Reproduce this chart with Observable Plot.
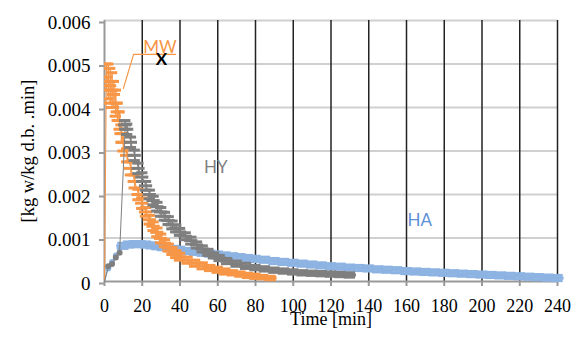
<!DOCTYPE html>
<html>
<head>
<meta charset="utf-8">
<script src="https://cdn.jsdelivr.net/npm/d3@7"></script>
<script src="https://cdn.jsdelivr.net/npm/@observablehq/plot@0.6"></script>
<style>
  html, body { margin: 0; padding: 0; background: #fff; }
  #chart svg { font-family: "Liberation Serif", "Times New Roman", serif; }
</style>
</head>
<body>
<div id="chart"></div>
<script>
// ---- Data ----
const xTicks = [0, 20, 40, 60, 80, 100, 120, 140, 160, 180, 200, 220, 240];
const yTicks = [0, 0.001, 0.002, 0.003, 0.004, 0.005, 0.006];
const yTickLabels = ["0", "0.001", "0.002", "0.003", "0.004", "0.005", "0.006"];

// MW (orange)
const mwTime = [0, 1, 2, 3, 4, 5, 6, 7, 8, 9, 10, 12, 14, 16, 18, 20, 22, 24, 26, 28, 30, 32, 34, 36, 38, 40, 44, 48, 52, 56, 60, 64, 68, 72, 76, 80, 84, 88];
const mwValue = [0, 0.0047, 0.0046, 0.0045, 0.0044, 0.0043, 0.0041, 0.0039, 0.0037, 0.0034, 0.0032, 0.0029, 0.0026, 0.0023, 0.0020, 0.0018, 0.0016, 0.00142, 0.00127, 0.00113, 0.00099, 0.00088, 0.00078, 0.00070, 0.00063, 0.00057, 0.00049, 0.00042, 0.00036, 0.00031, 0.00027, 0.00023, 0.00020, 0.00017, 0.00014, 0.00012, 0.00010, 0.00008];
const mwError = [0, 0.0003, 0.0004, 0.0004, 0.0004, 0.0003, 0.0003, 0.0002, 0.0002, 0.0002, 0.0002, 0.00015, 0.00015, 0.00015, 0.00012, 0.00012, 0.0001, 0.0001, 0.0001, 0.0001, 0.0001, 0.00008, 0.00008, 0.00008, 0.00008, 0.00008, 0.00007, 0.00007, 0.00007, 0.00006, 0.00006, 0.00006, 0.00005, 0.00005, 0.00005, 0.00005, 0.00004, 0.00004];

// HY (gray)
const hyTime = [0, 2, 4, 6, 8, 11, 12, 14, 16, 18, 20, 22, 24, 26, 28, 30, 32, 34, 36, 38, 40, 43, 46, 49, 52, 55, 58, 61, 65, 70, 75, 80, 85, 90, 95, 100, 105, 110, 115, 120, 125, 130];
const hyValue = [0, 0.00035, 0.0004, 0.00055, 0.00066, 0.0036, 0.0035, 0.0032, 0.0029, 0.0026, 0.0024, 0.0022, 0.0020, 0.00186, 0.00172, 0.0016, 0.0015, 0.0014, 0.0013, 0.00122, 0.00114, 0.00104, 0.00094, 0.00084, 0.00075, 0.00067, 0.0006, 0.00054, 0.00047, 0.00041, 0.00036, 0.00032, 0.00029, 0.00026, 0.00024, 0.00022, 0.0002, 0.00019, 0.00018, 0.00017, 0.00016, 0.00015];
const hyError = [0, 0, 0, 0, 0, 0.0001, 0.00012, 0.00012, 0.00012, 0.00012, 0.0001, 0.0001, 0.0001, 0.0001, 0.0001, 0.0001, 0.00009, 0.00009, 0.00009, 0.00008, 0.00008, 0.00008, 0.00008, 0.00007, 0.00007, 0.00007, 0.00006, 0.00006, 0.00006, 0.00006, 0.00006, 0.00005, 0.00005, 0.00005, 0.00005, 0.00005, 0.00005, 0.00005, 0.00005, 0.00005, 0.00005, 0.00005];

// HA (blue)
const haTime = [0, 2, 4, 6, 8, 10, 13, 16, 19, 22, 25, 28, 31, 34, 37, 40, 44, 48, 52, 56, 60, 64, 68, 72, 76, 80, 85, 90, 95, 100, 105, 110, 115, 120, 125, 130, 135, 140, 145, 150, 155, 160, 165, 170, 175, 180, 185, 190, 195, 200, 205, 210, 215, 220, 225, 230, 235, 240];
const haValue = [0, 0.0003, 0.00045, 0.0006, 0.00076, 0.00082, 0.00085, 0.00086, 0.00086, 0.00085, 0.00083, 0.00081, 0.00079, 0.00077, 0.00075, 0.00073, 0.0007, 0.00068, 0.00066, 0.00064, 0.00062, 0.0006, 0.00058, 0.00056, 0.00054, 0.00052, 0.0005, 0.00047, 0.00045, 0.00043, 0.00041, 0.00039, 0.00037, 0.00035, 0.00034, 0.00032, 0.00031, 0.0003, 0.00028, 0.00027, 0.00026, 0.00024, 0.00023, 0.00022, 0.00021, 0.0002, 0.00019, 0.00018, 0.00017, 0.00016, 0.00015, 0.00014, 0.00013, 0.00012, 0.00011, 0.0001, 0.00009, 0.00008];
const haError = [0, 0, 0, 0, 0, 0.00006, 0.00006, 0.00006, 0.00006, 0.00006, 0.00006, 0.00006, 0.00006, 0.00006, 0.00006, 0.00006, 0.00006, 0.00006, 0.00006, 0.00006, 0.00006, 0.00006, 0.00006, 0.00006, 0.00006, 0.00006, 0.00006, 0.00006, 0.00006, 0.00006, 0.00006, 0.00006, 0.00006, 0.00006, 0.00006, 0.00006, 0.00006, 0.00006, 0.00006, 0.00006, 0.00006, 0.00006, 0.00006, 0.00006, 0.00006, 0.00006, 0.00006, 0.00006, 0.00006, 0.00006, 0.00006, 0.00006, 0.00006, 0.00006, 0.00006, 0.00006, 0.00006, 0.00006];

// Annotations (data coordinates)
const labelNames = ["MW", "HY", "HA"];
const labelTime = [20.5, 59, 167];
const labelValue = [0.00526, 0.00262, 0.0014];
const labelColors = ["#f79646", "#7f7f7f", "#5b8fd6"];
const markName = ["X"];
const markTime = [30.2];
const markValue = [0.00511];
const leaderTime = [10, 15.4, 37.6];
const leaderValue = [0.00444, 0.00522, 0.00522];

// ---- Build tables ----
function series(t, v, e) {
  return t.map((d, i) => ({t: d, v: v[i], e: e[i]}));
}
const MW = series(mwTime, mwValue, mwError);
const HY = series(hyTime, hyValue, hyError);
const HA = series(haTime, haValue, haError);
const labels = labelNames.map((n, i) => ({n, t: labelTime[i], v: labelValue[i], c: labelColors[i]}));
const leader = leaderTime.map((t, i) => ({t, v: leaderValue[i]}));
const xMark = markName.map((n, i) => ({n, t: markTime[i], v: markValue[i]}));

const HW = 3.5; // half width of horizontal error bar (min)
const CW = 3;   // half width of caps (min)

function errMarks(data, color) {
  const d = data.filter(p => p.e > 0);
  return [
    Plot.ruleX(d, {x: "t", y1: p => p.v - p.e, y2: p => p.v + p.e, stroke: color, strokeWidth: 1.5}),
    Plot.ruleY(d, {y: "v", x1: p => Math.max(0, p.t - HW), x2: p => p.t + HW, stroke: color, strokeWidth: 3}),
    Plot.ruleY(d, {y: p => p.v + p.e, x1: p => Math.max(0, p.t - CW), x2: p => p.t + CW, stroke: color, strokeWidth: 3}),
    Plot.ruleY(d, {y: p => p.v - p.e, x1: p => Math.max(0, p.t - CW), x2: p => p.t + CW, stroke: color, strokeWidth: 3}),
    Plot.line(data, {x: "t", y: "v", stroke: color, strokeWidth: 1}),
    Plot.dot(data.filter(p => p.e === 0 && p.v > 0), {x: "t", y: "v", r: 3, fill: color})
  ];
}

const ORANGE = "#f79646", GRAY = "#7f7f7f", BLUE = "#8db3e2";
const SERIF = "Liberation Serif";

const chart = Plot.plot({
  width: 579,
  height: 345,
  marginLeft: 104,
  marginRight: 22,
  marginTop: 20,
  marginBottom: 64,
  style: {fontFamily: SERIF, fontSize: "17px", background: "#fff", color: "#000"},
  x: {domain: [0, 240]},
  y: {domain: [0, 0.006]},
  marks: [
    Plot.ruleY(yTicks.filter(d => d > 0), {stroke: "#d0d0d0", strokeWidth: 2}),
    Plot.ruleX(xTicks.filter(d => d > 0), {stroke: "#222", strokeWidth: 1.5}),
    Plot.axisX({ticks: xTicks, tickSize: 5, tickPadding: 13, stroke: "#999", strokeWidth: 2,
      fontFamily: SERIF, fontSize: 18, fill: "#000", label: null}),
    Plot.axisX({ticks: [], tickSize: 0, fontFamily: SERIF, fontSize: 18, fill: "#000",
      label: "Time [min]", labelAnchor: "center", labelArrow: "none", labelOffset: 43}),
    Plot.axisY({ticks: yTicks, tickFormat: d => yTickLabels[yTicks.indexOf(d)], tickSize: 5, tickPadding: 9,
      stroke: "#999", strokeWidth: 2, fontFamily: SERIF, fontSize: 19, fill: "#000", dy: 2, label: null}),
    Plot.axisY({ticks: [], tickSize: 0, fontFamily: SERIF, fontSize: 18.5, fill: "#000",
      label: "[kg w/kg d.b. .min]", labelAnchor: "center", labelArrow: "none", labelOffset: 84}),
    Plot.ruleY([0], {stroke: "#999", strokeWidth: 2}),
    Plot.ruleX([0], {stroke: "#999", strokeWidth: 2}),
    ...errMarks(HA, BLUE),
    ...errMarks(MW, ORANGE),
    ...errMarks(HY, GRAY),
    Plot.line(leader, {x: "t", y: "v", stroke: ORANGE, strokeWidth: 1.2}),
    Plot.text(labels.filter(d => d.n === "MW"), {x: "t", y: "v", text: "n", fill: "c", fontFamily: "Lato", fontSize: 17, textAnchor: "start", lineAnchor: "bottom"}),
    Plot.text(labels.filter(d => d.n !== "MW"), {x: "t", y: "v", text: "n", fill: "c", fontFamily: "Lato", fontSize: 17, textAnchor: "middle", lineAnchor: "middle"}),
    Plot.text(xMark, {x: "t", y: "v", text: "n", fill: "#000", fontFamily: "Lato", fontWeight: "bold", fontSize: 17})
  ]
});
document.getElementById("chart").appendChild(chart);
</script>
</body>
</html>
